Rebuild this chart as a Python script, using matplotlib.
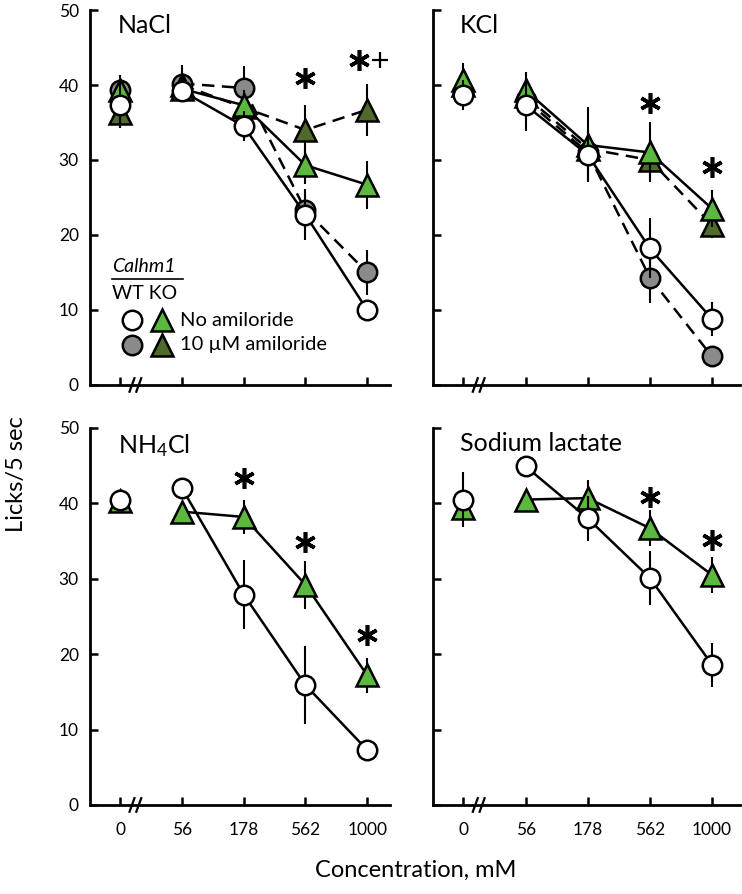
import numpy as np
import matplotlib
matplotlib.use("Agg")
import matplotlib.pyplot as plt
import matplotlib.transforms as mtransforms

plt.rcParams['font.family'] = ['Lato', 'DejaVu Sans']
plt.rcParams['mathtext.default'] = 'regular'

# Data
conc_labels = ['0', '56', '178', '562', '1000']

nacl_wt_no = [37.3, 39.2, 34.5, 22.7, 10.0]
nacl_wt_no_err = [3.0, 1.5, 2.0, 3.4, 1.0]
nacl_ko_no = [39.3, 39.5, 37.3, 29.3, 26.7]
nacl_ko_no_err = [1.5, 1.5, 2.0, 2.5, 3.2]
nacl_wt_am = [39.3, 40.2, 39.6, 23.3, 15.0]
nacl_wt_am_err = [2.0, 2.5, 3.0, 2.5, 3.0]
nacl_ko_am = [36.2, 40.0, 37.0, 34.0, 36.7]
nacl_ko_am_err = [2.0, 1.5, 2.0, 3.3, 3.5]

kcl_wt_no = [38.7, 37.3, 30.7, 18.2, 8.8]
kcl_wt_no_err = [2.0, 3.5, 3.3, 4.0, 2.3]
kcl_ko_no = [40.7, 39.3, 32.0, 31.0, 23.5]
kcl_ko_no_err = [2.3, 2.5, 5.0, 4.0, 2.5]
kcl_wt_am = [39.0, 38.0, 31.0, 14.3, 3.8]
kcl_wt_am_err = [1.5, 2.0, 2.0, 3.4, 1.0]
kcl_ko_am = [40.0, 38.5, 31.5, 30.0, 21.3]
kcl_ko_am_err = [1.5, 2.0, 2.0, 2.5, 1.7]

nh4_wt_no = [40.5, 42.0, 27.9, 15.9, 7.3]
nh4_wt_no_err = [1.0, 1.0, 4.6, 5.2, 1.0]
nh4_ko_no = [40.3, 38.9, 38.2, 29.2, 17.2]
nh4_ko_no_err = [1.2, 1.0, 2.2, 3.2, 2.3]

lac_wt_no = [40.5, 44.9, 38.0, 30.1, 18.6]
lac_wt_no_err = [3.7, 1.0, 3.0, 3.6, 2.9]
lac_ko_no = [39.4, 40.5, 40.7, 36.7, 30.5]
lac_ko_no_err = [1.5, 1.0, 2.4, 2.4, 2.4]

# significance marks: x position, y value
nacl_star_x = [3.0, 3.86]
nacl_star_y = [40.9, 43.3]
nacl_plus_x = [4.21]
nacl_plus_y = [43.3]
kcl_star_x = [3, 4]
kcl_star_y = [37.6, 29.1]
nh4_star_x = [2, 3, 4]
nh4_star_y = [43.3, 34.9, 22.5]
lac_star_x = [3, 4]
lac_star_y = [40.9, 35.1]

# Styles
GREEN = '#5cb83e'
DKGREEN = '#4f6a2a'
GRAY = '#8a8a8a'

styles = {
    'wt_am': dict(marker='o', mfc=GRAY, ls='--', ms=14, z=3),
    'ko_am': dict(marker='^', mfc=DKGREEN, ls='--', ms=16, z=4),
    'ko_no': dict(marker='^', mfc=GREEN, ls='-', ms=16, z=5),
    'wt_no': dict(marker='o', mfc='white', ls='-', ms=14, z=6),
}


def draw_series(ax, y, err, key):
    st = styles[key]
    x = np.arange(len(y))
    y = np.array(y)
    err = np.array(err)
    ax.vlines(x, y - err, y + err, color='black', lw=1.5, zorder=st['z'] - 0.5)
    # connecting line skips the 0 point
    ax.plot(x[1:], y[1:], color='black', ls=st['ls'], lw=1.8, zorder=st['z'] - 0.5,
            dashes=(5, 3) if st['ls'] == '--' else (None, None))
    ax.plot(x, y, ls='none', marker=st['marker'], ms=st['ms'], mfc=st['mfc'],
            mec='black', mew=1.8, zorder=st['z'])


def setup_axes(ax, show_y, show_x, right):
    ax.set_ylim(0, 50)
    ax.set_xlim(-0.49, 4.45 if right else 4.37)
    ax.set_yticks([0, 10, 20, 30, 40, 50])
    ax.set_xticks(range(5))
    ax.set_xticklabels(conc_labels if show_x else [])
    if not show_y:
        ax.set_yticklabels([])
    ax.tick_params(direction='in', length=6, width=1.8, labelsize=12.5, pad=8)
    ax.tick_params(axis='x', pad=12)
    for s in ['top', 'right']:
        ax.spines[s].set_visible(False)
    for s in ['left', 'bottom']:
        ax.spines[s].set_linewidth(2.0)
    # axis break marks
    tr = mtransforms.blended_transform_factory(ax.transData, ax.transAxes)
    for xb in [0.19, 0.30]:
        ax.plot([xb - 0.04, xb + 0.04], [-0.018, 0.018], color='black', lw=1.6,
                transform=tr, clip_on=False, zorder=10)


def draw_stars(ax, xs, ys):
    ax.plot(xs, ys, ls='none', marker=(6, 2, 0), ms=15, mew=2.6, color='black',
            zorder=10, clip_on=False)


fig = plt.figure(figsize=(7.42, 8.94), dpi=100)
ax1 = fig.add_axes([0.1213, 0.5694, 0.4043, 0.4194])
ax2 = fig.add_axes([0.5836, 0.5694, 0.4137, 0.4194])
ax3 = fig.add_axes([0.1213, 0.0996, 0.4043, 0.4217])
ax4 = fig.add_axes([0.5836, 0.0996, 0.4137, 0.4217])

# NaCl
draw_series(ax1, nacl_wt_am, nacl_wt_am_err, 'wt_am')
draw_series(ax1, nacl_ko_am, nacl_ko_am_err, 'ko_am')
draw_series(ax1, nacl_ko_no, nacl_ko_no_err, 'ko_no')
draw_series(ax1, nacl_wt_no, nacl_wt_no_err, 'wt_no')
draw_stars(ax1, nacl_star_x, nacl_star_y)
ax1.plot(nacl_plus_x, nacl_plus_y, ls='none', marker='+', ms=12, mew=1.6,
         color='black', clip_on=False)

# KCl
draw_series(ax2, kcl_wt_am, kcl_wt_am_err, 'wt_am')
draw_series(ax2, kcl_ko_am, kcl_ko_am_err, 'ko_am')
draw_series(ax2, kcl_ko_no, kcl_ko_no_err, 'ko_no')
draw_series(ax2, kcl_wt_no, kcl_wt_no_err, 'wt_no')
draw_stars(ax2, kcl_star_x, kcl_star_y)

# NH4Cl
draw_series(ax3, nh4_ko_no, nh4_ko_no_err, 'ko_no')
draw_series(ax3, nh4_wt_no, nh4_wt_no_err, 'wt_no')
draw_stars(ax3, nh4_star_x, nh4_star_y)

# Sodium lactate
draw_series(ax4, lac_ko_no, lac_ko_no_err, 'ko_no')
draw_series(ax4, lac_wt_no, lac_wt_no_err, 'wt_no')
draw_stars(ax4, lac_star_x, lac_star_y)

setup_axes(ax1, True, False, False)
setup_axes(ax2, False, False, True)
setup_axes(ax3, True, True, False)
setup_axes(ax4, False, True, True)

ax1.text(0.093, 0.99, 'NaCl', transform=ax1.transAxes, fontsize=18, va='top')
ax2.text(0.088, 0.99, 'KCl', transform=ax2.transAxes, fontsize=18, va='top')
ax3.text(0.093, 0.99, 'NH$_4$Cl', transform=ax3.transAxes, fontsize=18, va='top')
ax4.text(0.088, 0.99, 'Sodium lactate', transform=ax4.transAxes, fontsize=18, va='top')

# legend (drawn by hand)
ax1.text(0.073, 0.315, 'Calhm1', transform=ax1.transAxes, fontsize=14,
         style='italic', va='center')
ax1.plot([0.073, 0.31], [0.283, 0.283], color='black', lw=1.2,
         transform=ax1.transAxes)
ax1.text(0.073, 0.245, 'WT KO', transform=ax1.transAxes, fontsize=14, va='center')
for yy, cf, tf, lab in [(0.173, 'white', GREEN, 'No amiloride'),
                        (0.107, GRAY, DKGREEN, '10 µM amiloride')]:
    ax1.plot([0.14], [yy], marker='o', ms=14, mfc=cf, mec='black', mew=1.8,
             transform=ax1.transAxes, ls='none')
    ax1.plot([0.24], [yy], marker='^', ms=16, mfc=tf, mec='black', mew=1.8,
             transform=ax1.transAxes, ls='none')
    ax1.text(0.30, yy, lab, transform=ax1.transAxes, fontsize=14.5, va='center')

fig.text(0.022, 0.47, 'Licks/5 sec', rotation=90, fontsize=17, ha='center', va='center')
fig.text(0.56, 0.027, 'Concentration, mM', fontsize=17, ha='center', va='center')

fig.savefig('out.png', dpi=100)
